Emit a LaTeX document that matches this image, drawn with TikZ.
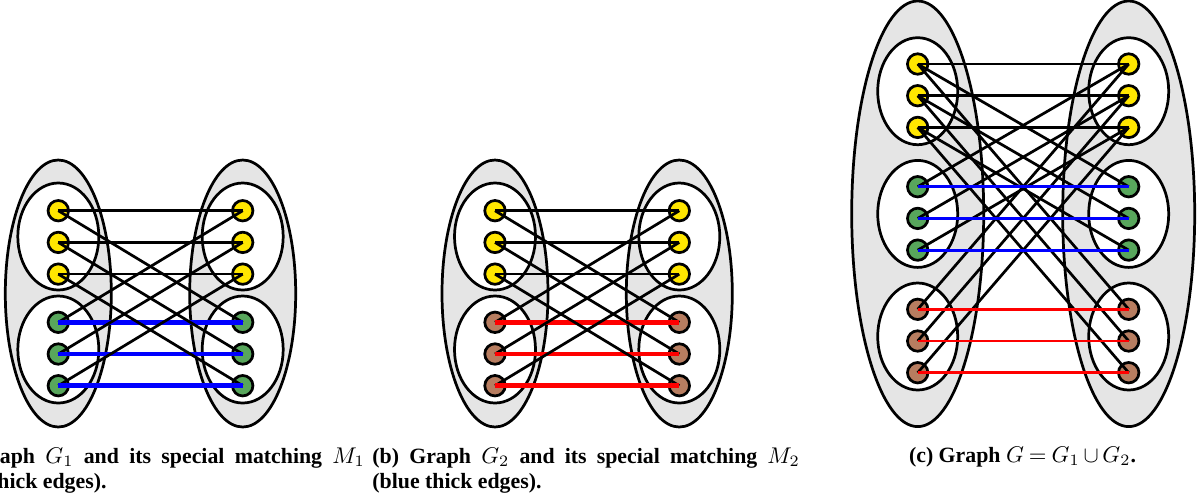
\documentclass[tikz,border=0pt]{standalone}
\usepackage{fontspec}
\setmainfont{Liberation Serif}
\definecolor{vyellow}{RGB}{255,230,0}
\definecolor{vgreen}{RGB}{88,166,92}
\definecolor{vbrown}{RGB}{183,125,96}
\definecolor{blobgray}{RGB}{229,229,229}
\begin{document}
\begin{tikzpicture}[x=0.44pt, y=-0.44pt,
    blob/.style={draw, line width=1.2pt, fill=blobgray},
    part/.style={draw, line width=1.2pt, fill=white},
    vtx/.style={circle, draw, line width=1.2pt, minimum size=9pt, inner sep=0pt},
    edge/.style={line width=1.2pt},
    thickmatch/.style={line width=2pt},
    thinmatch/.style={line width=1.3pt},
    caption/.style={font=\bfseries\fontsize{9.6}{11}\selectfont, inner sep=0pt}]
    \useasboundingbox (0,0) rectangle (1200,502);
    \clip (0,0) rectangle (1200,502);

    % Elipses de (a) y (b)
    \foreach \x in {58.3, 242.7, 495, 679.3} {
        \draw[blob] (\x,293.5) ellipse [x radius=53, y radius=133.5];
        \draw[part] (\x,236.5) ellipse [x radius=40.5, y radius=53.5];
        \draw[part] (\x,349.5) ellipse [x radius=40.5, y radius=53.5];
    }

    % Elipses de (c)
    \foreach \x in {917.7, 1128.7} {
        \draw[blob] (\x,213.8) ellipse [x radius=66, y radius=212.8];
        \draw[part] (\x,91.2) ellipse [x radius=40, y radius=53.5];
        \draw[part] (\x,213.9) ellipse [x radius=40, y radius=53.5];
        \draw[part] (\x,336.5) ellipse [x radius=40, y radius=53.5];
    }

    % Vertices
    \foreach \i in {1,2,3} {
        \pgfmathsetmacro{\ya}{210.7+(\i-1)*31.7}
        \pgfmathsetmacro{\yb}{322.3+(\i-1)*31.7}
        \pgfmathtruncatemacro{\j}{\i+3}
        \pgfmathtruncatemacro{\k}{\i+6}
        \node[vtx, fill=vyellow] (aL\i) at (58.3,\ya) {};
        \node[vtx, fill=vyellow] (aR\i) at (242.7,\ya) {};
        \node[vtx, fill=vgreen] (aL\j) at (58.3,\yb) {};
        \node[vtx, fill=vgreen] (aR\j) at (242.7,\yb) {};
        \node[vtx, fill=vyellow] (bL\i) at (495,\ya) {};
        \node[vtx, fill=vyellow] (bR\i) at (679.3,\ya) {};
        \node[vtx, fill=vbrown] (bL\j) at (495,\yb) {};
        \node[vtx, fill=vbrown] (bR\j) at (679.3,\yb) {};
        \pgfmathsetmacro{\yc}{64+(\i-1)*31.7}
        \pgfmathsetmacro{\yd}{186.7+(\i-1)*31.7}
        \pgfmathsetmacro{\ye}{309.3+(\i-1)*31.7}
        \node[vtx, fill=vyellow] (cL\i) at (917.7,\yc) {};
        \node[vtx, fill=vyellow] (cR\i) at (1128.7,\yc) {};
        \node[vtx, fill=vgreen] (cL\j) at (917.7,\yd) {};
        \node[vtx, fill=vgreen] (cR\j) at (1128.7,\yd) {};
        \node[vtx, fill=vbrown] (cL\k) at (917.7,\ye) {};
        \node[vtx, fill=vbrown] (cR\k) at (1128.7,\ye) {};
    }

    % Aristas
    \foreach \i in {1,2,3} {
        \pgfmathtruncatemacro{\j}{\i+3}
        \pgfmathtruncatemacro{\k}{\i+6}
        \draw[edge] (aL\i.center) -- (aR\i.center);
        \draw[edge] (aL\i.center) -- (aR\j.center);
        \draw[edge] (aL\j.center) -- (aR\i.center);
        \draw[thickmatch, blue] (aL\j.center) -- (aR\j.center);
        \draw[edge] (bL\i.center) -- (bR\i.center);
        \draw[edge] (bL\i.center) -- (bR\j.center);
        \draw[edge] (bL\j.center) -- (bR\i.center);
        \draw[thickmatch, red] (bL\j.center) -- (bR\j.center);
        \draw[edge] (cL\i.center) -- (cR\i.center);
        \draw[edge] (cL\i.center) -- (cR\j.center);
        \draw[edge] (cL\j.center) -- (cR\i.center);
        \draw[edge] (cL\i.center) -- (cR\k.center);
        \draw[edge] (cL\k.center) -- (cR\i.center);
    }
    \foreach \i in {1,2,3} {
        \pgfmathtruncatemacro{\j}{\i+3}
        \pgfmathtruncatemacro{\k}{\i+6}
        \draw[thinmatch, blue] (cL\j.center) -- (cR\j.center);
        \draw[thinmatch, red] (cL\k.center) -- (cR\k.center);
    }

    % Leyendas
    \node[caption, text width=188pt, align=justify, anchor=base west] (capa) at (-63,463)
        {(a) Graph $G_1$ and its special matching $M_1$\linebreak (blue thick edges).};
    \node[caption, text width=188pt, align=justify, anchor=base west] (capb) at (372,463)
        {(b) Graph $G_2$ and its special matching $M_2$\linebreak (blue thick edges).};
    \node[caption, anchor=base] (capc) at (1022.5,462.5) {(c) Graph $G\mskip4mu{=}\mskip4mu G_1\mskip3mu{\cup}\mskip3mu G_2$.};
\end{tikzpicture}
\end{document}
